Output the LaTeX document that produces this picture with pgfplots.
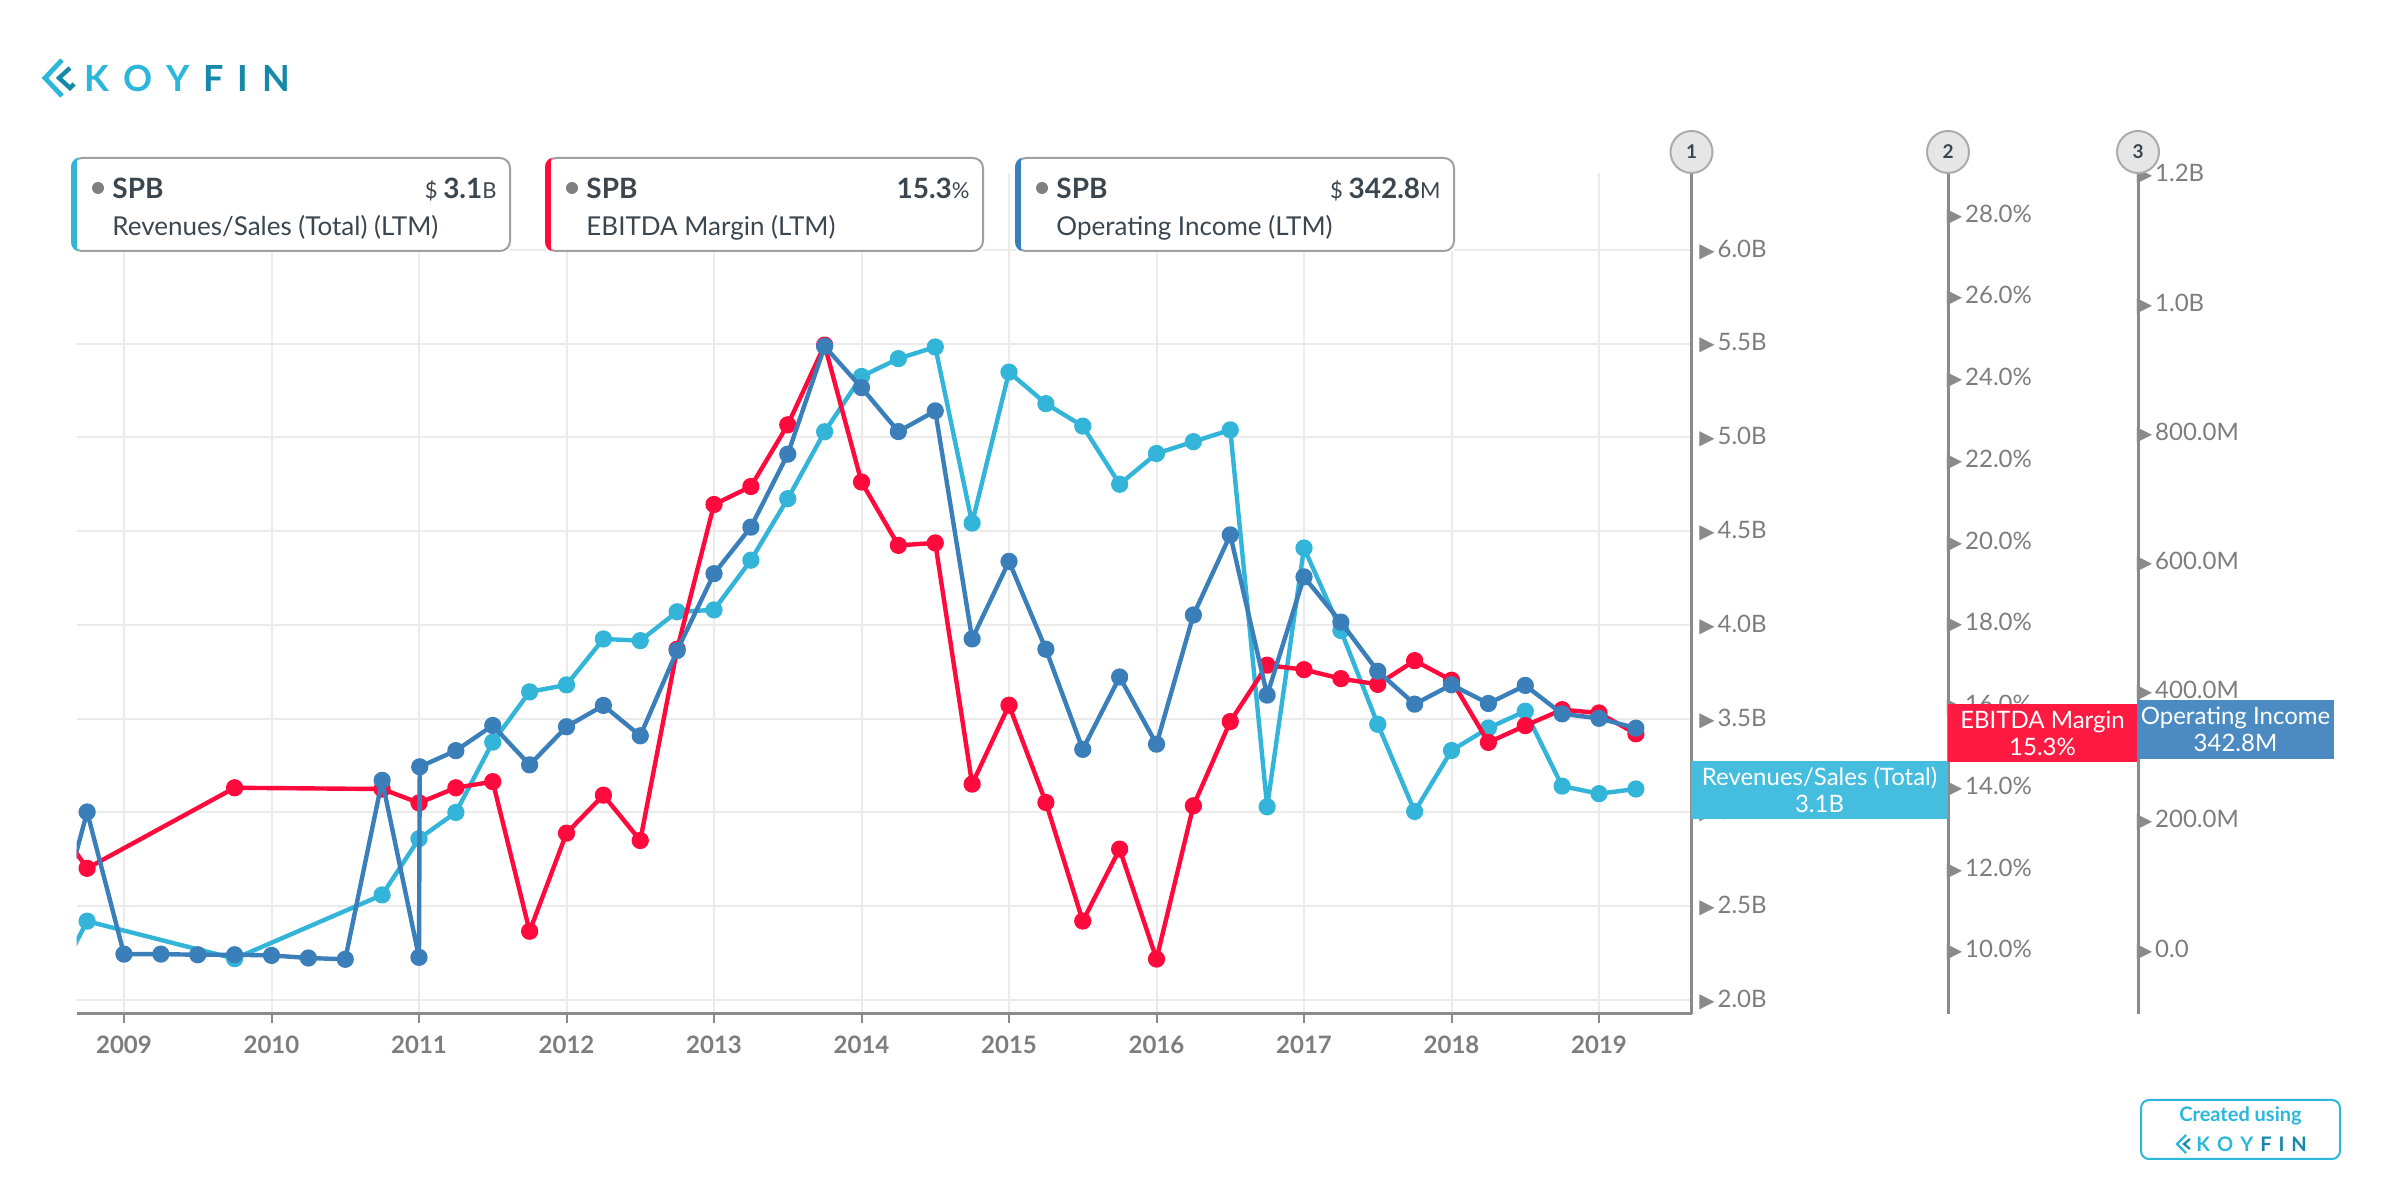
\documentclass[border=0pt]{standalone}
\usepackage{fontspec}
\setmainfont{Lato}
\newfontfamily\djv{DejaVu Sans}
\usepackage{pgfplots}
\usepackage{pgfplotstable}
\pgfplotsset{compat=1.18}

\definecolor{rev}{HTML}{33B5DA}
\definecolor{ebit}{HTML}{FF0A3C}
\definecolor{opinc}{HTML}{3A7FBA}
\definecolor{revbox}{HTML}{45BDDE}
\definecolor{ebitbox}{HTML}{FF1A42}
\definecolor{oibox}{HTML}{4C8BC2}
\definecolor{axgray}{HTML}{8A8A8A}
\definecolor{labgray}{HTML}{7D7D7D}
\definecolor{gridgray}{HTML}{EBEBEB}
\definecolor{txt}{HTML}{3C464E}
\definecolor{dotgray}{HTML}{808080}
\definecolor{boxgray}{HTML}{A0A0A0}
\definecolor{kblue}{HTML}{2AB7DB}
\definecolor{kdark}{HTML}{1688AA}
\definecolor{circfill}{HTML}{E6E6E6}
\definecolor{circdraw}{HTML}{ABABAB}

% tick label with small triangle
\newcommand\tri{{\djv\fontsize{10}{10}\selectfont\color{axgray}\kern-0.8pt▶}}
\newcommand\tl[1]{\tri\hspace{1.5pt}#1}

% legend box: left, right, colour, value, description
\newcommand\legbox[5]{%
  \fill[white] ({#1pt},474.5pt) rectangle ({#2pt},521pt);
  \draw[boxgray, line width=1pt, rounded corners=5pt] ({#1pt},474.5pt) rectangle ({#2pt},521pt);
  \begin{scope}
    \clip[rounded corners=5pt] ({#1pt-0.5pt},474pt) rectangle ({#2pt},521.5pt);
    \fill[#3] ({#1pt-0.5pt},474pt) rectangle ({#1pt+2.5pt},521.5pt);
  \end{scope}
  \fill[dotgray] ({#1pt+13pt},506pt) circle (3pt);
  \node[anchor=base west, inner sep=0pt, text=txt, font=\bfseries\fontsize{14}{14}\selectfont] at ({#1pt+20pt},500.5pt) {SPB};
  \node[anchor=base east, inner sep=0pt, text=txt] at ({#2pt-6.5pt},500.5pt) {#4};
  \node[anchor=base west, inner sep=0pt, text=txt, font=\fontsize{13}{13}\selectfont] at ({#1pt+20pt},482pt) {#5};
}

\pgfplotstableread{
x y
2008.5 2.04
2008.75 2.42
2009.75 2.22
2010.75 2.56
2011.0 2.86
2011.25 3.0
2011.5 3.375
2011.75 3.643
2012.0 3.68
2012.25 3.925
2012.5 3.916
2012.75 4.07
2013.0 4.08
2013.25 4.345
2013.5 4.673
2013.75 5.03
2014.0 5.325
2014.25 5.42
2014.5 5.482
2014.75 4.543
2015.0 5.348
2015.25 5.18
2015.5 5.06
2015.75 4.75
2016.0 4.914
2016.25 4.977
2016.5 5.04
2016.75 3.03
2017.0 4.41
2017.25 3.97
2017.5 3.47
2017.75 3.005
2018.0 3.33
2018.25 3.45
2018.5 3.54
2018.75 3.14
2019.0 3.10
2019.25 3.125
}\revtab

\pgfplotstableread{
x y
2008.5 13.3
2008.75 12.01
2009.75 13.98
2010.75 13.95
2011.0 13.61
2011.25 13.98
2011.5 14.13
2011.75 10.47
2012.0 12.87
2012.25 13.80
2012.5 12.69
2012.75 17.37
2013.0 20.91
2013.25 21.35
2013.5 22.86
2013.75 24.81
2014.0 21.46
2014.25 19.91
2014.5 19.97
2014.75 14.07
2015.0 16.0
2015.25 13.62
2015.5 10.72
2015.75 12.48
2016.0 9.79
2016.25 13.54
2016.5 15.60
2016.75 16.98
2017.0 16.87
2017.25 16.65
2017.5 16.51
2017.75 17.09
2018.0 16.61
2018.25 15.09
2018.5 15.50
2018.75 15.89
2019.0 15.81
2019.25 15.3
}\ebittab

\pgfplotstableread{
x y
2008.5 0
2008.75 213
2009.0 -7
2009.25 -7
2009.5 -8
2009.75 -8
2010.0 -9
2010.25 -13
2010.5 -15
2010.75 262
2011.0 -12
2011.005 283
2011.25 308
2011.5 347
2011.75 286
2012.0 345
2012.25 378
2012.5 331
2012.75 463
2013.0 582
2013.25 654
2013.5 767
2013.75 934
2014.0 870
2014.25 802
2014.5 834
2014.75 481
2015.0 601
2015.25 465
2015.5 310
2015.75 422
2016.0 318
2016.25 518
2016.5 642
2016.75 394
2017.0 577
2017.25 507
2017.5 431
2017.75 380
2018.0 410
2018.25 381
2018.5 409
2018.75 365
2019.0 358
2019.25 342.8
}\oitab

\pgfplotsset{
  box/.style={at={(38.25pt,93pt)}, anchor=south west, scale only axis,
    width=807.5pt, height=420.5pt, xmin=2008.678, xmax=2019.627},
  ser/.style={color=#1, line width=2.2pt, line join=round, line cap=round,
    mark=*, mark size=3.2pt, mark options={solid, fill=#1, draw=#1}},
  scaleax/.style={anchor=south east, scale only axis, width=1pt, height=420.5pt,
    xmin=0, xmax=1, hide x axis, axis y line*=right,
    axis line style={-, draw=axgray, line width=1.5pt},
    y tick style={draw=none},
    yticklabel style={anchor=west, inner sep=0pt, text=labgray,
      font=\fontsize{12}{12}\selectfont}},
}

\begin{document}
\begin{tikzpicture}
\path[fill=white, use as bounding box] (0,0) rectangle (1200pt,600pt);

% revenue axis with grid
\begin{axis}[box, ymin=1.925, ymax=6.41,
  axis x line*=bottom, axis y line*=right,
  axis line style={-, draw=axgray, line width=1.5pt},
  xtick={2009,2010,2011,2012,2013,2014,2015,2016,2017,2018,2019},
  xticklabels={2009,2010,2011,2012,2013,2014,2015,2016,2017,2018,2019},
  ytick={2,2.5,3,3.5,4,4.5,5,5.5,6},
  yticklabels={\tl{2.0B},\tl{2.5B},\tl{3.0B},\tl{3.5B},\tl{4.0B},\tl{4.5B},\tl{5.0B},\tl{5.5B},\tl{6.0B}},
  grid=major, grid style={gridgray, line width=1pt},
  tick align=outside, major tick length=4.5pt,
  x tick style={draw=axgray, line width=1pt},
  y tick style={draw=none},
  xticklabel style={text=labgray, font=\bfseries\fontsize{12}{12}\selectfont, yshift=-3pt},
  yticklabel style={anchor=west, inner sep=0pt, text=labgray, font=\fontsize{12}{12}\selectfont},
]
\addplot[ser=rev] table[x=x, y=y] {\revtab};
\end{axis}

% EBITDA margin data
\begin{axis}[box, ymin=8.446, ymax=29.02, hide axis]
\addplot[ser=ebit] table[x=x, y=y] {\ebittab};
\end{axis}

% operating income data
\begin{axis}[box, ymin=-99.7, ymax=1202.3, hide axis]
\addplot[ser=opinc] table[x=x, y=y] {\oitab};
\end{axis}

% axis 2 scale
\begin{axis}[scaleax, at={(974pt,93pt)}, ymin=8.446, ymax=29.02,
  ytick={10,12,14,16,18,20,22,24,26,28},
  yticklabels={\tl{10.0\%},\tl{12.0\%},\tl{14.0\%},\tl{16.0\%},\tl{18.0\%},\tl{20.0\%},\tl{22.0\%},\tl{24.0\%},\tl{26.0\%},\tl{28.0\%}}]
\end{axis}

% axis 3 scale
\begin{axis}[scaleax, at={(1069pt,93pt)}, ymin=-99.7, ymax=1202.3,
  ytick={0,200,400,600,800,1000,1200},
  yticklabels={\tl{0.0},\tl{200.0M},\tl{400.0M},\tl{600.0M},\tl{800.0M},\tl{1.0B},\tl{1.2B}}]
\end{axis}

% axis number circles
\foreach \cx/\n in {845.75/1, 974/2, 1069/3} {
  \filldraw[fill=circfill, draw=circdraw, line width=1pt] (\cx pt,524pt) circle (10.5pt);
  \node[text=txt, font=\bfseries\fontsize{9.5}{9.5}\selectfont] at (\cx pt,524pt) {\n};
}

% last value boxes
\fill[revbox] (845.5pt,190.5pt) rectangle (974pt,219.5pt);
\node[align=center, text=white, font=\fontsize{12}{13.5}\selectfont] at (909.75pt,205pt) {Revenues/Sales (Total)\\3.1B};
\fill[ebitbox] (974pt,219pt) rectangle (1068.5pt,248pt);
\node[align=center, text=white, font=\fontsize{12}{13.5}\selectfont] at (1021.25pt,233.5pt) {EBITDA Margin\\15.3\%};
\fill[oibox] (1068.5pt,220.5pt) rectangle (1167pt,250pt);
\node[align=center, text=white, font=\fontsize{12}{13.5}\selectfont] at (1117.75pt,235.25pt) {Operating Income\\342.8M};

% legend boxes
\legbox{36}{255}{rev}{{\fontsize{11}{11}\selectfont\$ }{\bfseries\fontsize{14}{14}\selectfont 3.1}{\fontsize{11}{11}\selectfont B}}{Revenues/Sales (Total) (LTM)}
\legbox{273}{491.5}{ebit}{{\bfseries\fontsize{14}{14}\selectfont 15.3}{\fontsize{11}{11}\selectfont\%}}{EBITDA Margin (LTM)}
\legbox{508}{727}{opinc}{{\fontsize{11}{11}\selectfont\$ }{\bfseries\fontsize{14}{14}\selectfont 342.8}{\fontsize{11}{11}\selectfont M}}{Operating Income (LTM)}

% logo
\draw[kblue, line width=2.4pt, line join=miter] (31pt,570pt) -- (22.5pt,561pt) -- (31pt,552pt);
\draw[kdark, line width=2.2pt, line join=miter] (35pt,566pt) -- (29.5pt,561pt) -- (35pt,556pt) -- (37pt,558pt);
\node[anchor=base west, inner sep=0pt, font=\bfseries\fontsize{18}{18}\selectfont] at (42pt,554pt)
  {\color{kblue}K\kern7pt O\kern7pt Y\kern7pt \color{kdark}F\kern7pt I\kern7pt N};

% created using box
\draw[kblue, line width=1pt, rounded corners=4pt] (1070.5pt,20.5pt) rectangle (1170pt,50pt);
\node[text=kblue, font=\bfseries\fontsize{10}{10}\selectfont] at (1120.25pt,42pt) {Created using};
\draw[kblue, line width=1.2pt] (1093pt,32.5pt) -- (1088.5pt,28pt) -- (1093pt,23.5pt);
\draw[kdark, line width=1.1pt] (1095pt,30.5pt) -- (1092pt,28pt) -- (1095pt,25.5pt);
\node[anchor=base west, inner sep=0pt, font=\bfseries\fontsize{10}{10}\selectfont] at (1098pt,24pt)
  {\color{kblue}K\kern3.5pt O\kern3.5pt Y\kern3.5pt \color{kdark}F\kern3.5pt I\kern3.5pt N};
\end{tikzpicture}
\end{document}
